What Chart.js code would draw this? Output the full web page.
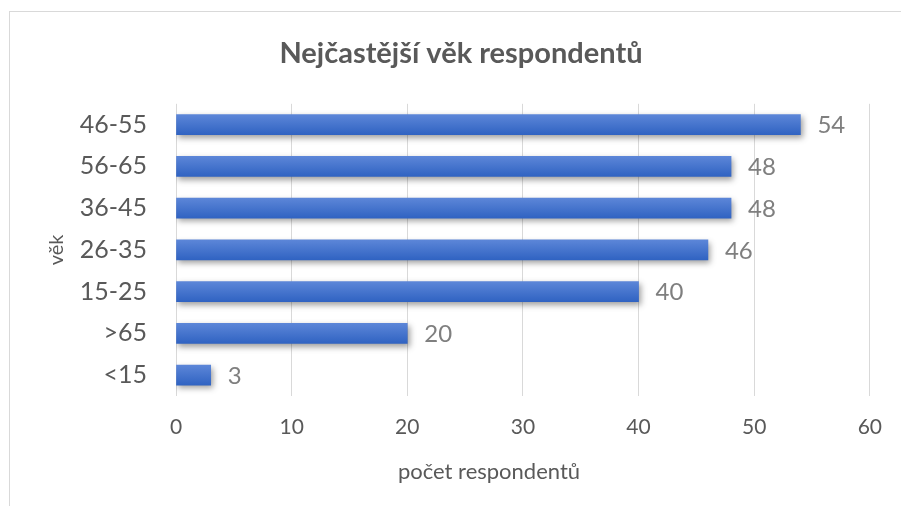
<!DOCTYPE html>
<html lang="cs">
<head>
<meta charset="utf-8">
<title>Nejčastější věk respondentů</title>
<script src="https://cdn.jsdelivr.net/npm/chart.js@4/dist/chart.umd.min.js"></script>
<style>
  html, body { margin: 0; padding: 0; background: #fff; overflow: hidden; }
  #frame {
    position: absolute; left: 9px; top: 11px; width: 1000px; height: 600px;
    border-top: 1px solid #d9d9d9; border-left: 1px solid #d9d9d9;
  }
  #chart { position: absolute; left: 0; top: 0; }
</style>
</head>
<body>
<div id="frame"></div>
<canvas id="chart" width="901" height="506"></canvas>
<script>
const categories = ['46-55', '56-65', '36-45', '26-35', '15-25', '>65', '<15'];
const respondents = [54, 48, 48, 46, 40, 20, 3];
const xTicks = [0, 10, 20, 30, 40, 50, 60];

const chartTitle = 'Nejčastější věk respondentů';
const yTitle = 'věk';
const xTitle = 'počet respondentů';

const FONT = 'Lato, "Open Sans", sans-serif';
const TEXT = '#595959';
const BAR_THICKNESS = 20;

// one gradient over the chart area, light at the top of each bar, dark at the bottom
function barGradient(context) {
    const chart = context.chart;
    const area = chart.chartArea;
    const yScale = chart.scales.y;
    if (!area || !yScale) return '#4472c4';
    const g = chart.ctx.createLinearGradient(0, area.top, 0, area.bottom);
    const h = area.bottom - area.top;
    categories.forEach((c, i) => {
        const mid = yScale.getPixelForValue(i);
        const top = Math.max(0, Math.min(1, (mid - BAR_THICKNESS / 2 - area.top) / h));
        const bot = Math.max(0, Math.min(1, (mid + BAR_THICKNESS / 2 - area.top) / h));
        g.addColorStop(top, '#5c86d8');
        g.addColorStop(bot, '#3063c2');
    });
    return g;
}

const barShadow = {
    id: 'barShadow',
    beforeDatasetsDraw(chart) {
        const ctx = chart.ctx;
        ctx.save();
        ctx.shadowColor = 'rgba(0,0,0,0.38)';
        ctx.shadowBlur = 6;
        ctx.shadowOffsetX = 2;
        ctx.shadowOffsetY = 3;
    },
    afterDatasetsDraw(chart) {
        chart.ctx.restore();
    }
};

const valueLabels = {
    id: 'valueLabels',
    afterDraw(chart) {
        const ctx = chart.ctx;
        const meta = chart.getDatasetMeta(0);
        ctx.save();
        ctx.font = '24px ' + FONT;
        ctx.fillStyle = '#7f7f7f';
        ctx.textAlign = 'left';
        ctx.textBaseline = 'middle';
        meta.data.forEach((bar, i) => {
            ctx.fillText(String(respondents[i]), bar.x + 17, bar.y + 1);
        });
        // x axis title, placed like the original (not centred on the plot)
        ctx.font = '22px ' + FONT;
        ctx.fillStyle = TEXT;
        ctx.textAlign = 'center';
        ctx.fillText(xTitle, 489, 472);
        ctx.restore();
    }
};

new Chart(document.getElementById('chart'), {
    type: 'bar',
    data: {
        labels: categories,
        datasets: [{
            data: respondents,
            backgroundColor: barGradient,
            borderWidth: 0,
            barThickness: BAR_THICKNESS
        }]
    },
    options: {
        indexAxis: 'y',
        responsive: false,
        animation: false,
        layout: { padding: { left: 52, right: 31, top: 0, bottom: 0 } },
        plugins: {
            legend: { display: false },
            tooltip: { enabled: false },
            title: {
                display: true,
                text: chartTitle,
                color: TEXT,
                font: { family: FONT, size: 29, weight: 'bold' },
                padding: { top: 36, bottom: 33 }
            }
        },
        scales: {
            x: {
                min: 0,
                max: 60,
                afterBuildTicks(scale) {
                    scale.ticks = xTicks.map((v) => ({ value: v }));
                },
                afterFit(scale) { scale.height = 110; },
                grid: { color: '#d9d9d9', drawTicks: false },
                border: { display: false },
                ticks: { color: TEXT, padding: 19, font: { family: FONT, size: 21 } }
            },
            y: {
                afterFit(scale) { scale.width = 124; },
                grid: { display: false, drawTicks: false },
                border: { display: false },
                ticks: { color: TEXT, padding: 29, font: { family: FONT, size: 25 } },
                title: {
                    display: true,
                    text: yTitle,
                    color: TEXT,
                    font: { family: FONT, size: 20 },
                    padding: { top: -7, bottom: 0 }
                }
            }
        }
    },
    plugins: [barShadow, valueLabels]
});
</script>
</body>
</html>
